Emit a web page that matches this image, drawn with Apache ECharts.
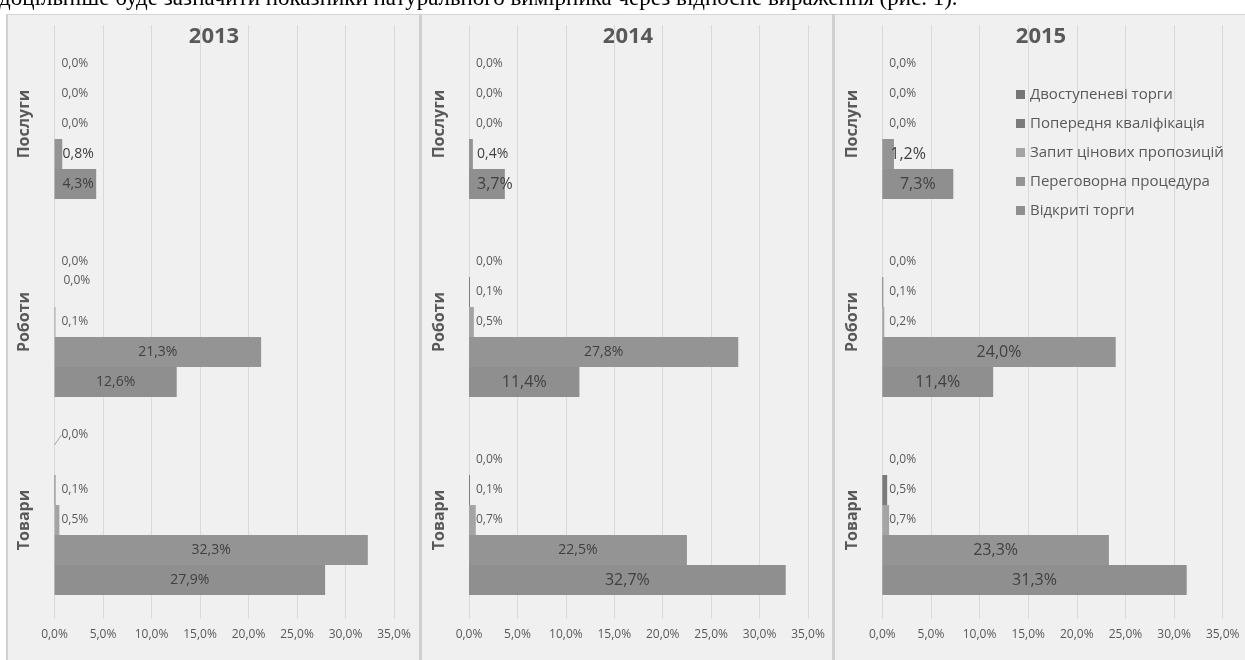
<!DOCTYPE html>
<html><head><meta charset="utf-8">
<script src="https://cdn.jsdelivr.net/npm/echarts@6/dist/echarts.min.js"></script>
<style>html,body{margin:0;padding:0;background:#f0f0f0}#c{width:1245px;height:660px}</style>
</head><body><div id="c"></div>
<script>
// ---- data ----
const categories = ['Товари', 'Роботи', 'Послуги'];
const years = ['2013', '2014', '2015'];
const seriesNames = ['Відкриті торги', 'Переговорна процедура', 'Запит цінових пропозицій', 'Попередня кваліфікація', 'Двоступеневі торги'];
const legendOrder = ['Двоступеневі торги', 'Попередня кваліфікація', 'Запит цінових пропозицій', 'Переговорна процедура', 'Відкриті торги'];
const xTicks = [0, 5, 10, 15, 20, 25, 30, 35];
// values in category order [Товари, Роботи, Послуги], %
const open2013 = [27.9, 12.6, 4.3];
const negot2013 = [32.3, 21.3, 0.8];
const request2013 = [0.5, 0.1, 0.0];
const prequal2013 = [0.1, 0.0, 0.0];
const twostage2013 = [0.0, 0.0, 0.0];
const open2014 = [32.7, 11.4, 3.7];
const negot2014 = [22.5, 27.8, 0.4];
const request2014 = [0.7, 0.5, 0.0];
const prequal2014 = [0.1, 0.1, 0.0];
const twostage2014 = [0.0, 0.0, 0.0];
const open2015 = [31.3, 11.4, 7.3];
const negot2015 = [23.3, 24.0, 1.2];
const request2015 = [0.7, 0.2, 0.0];
const prequal2015 = [0.5, 0.1, 0.0];
const twostage2015 = [0.0, 0.0, 0.0];

const yearData = [
  [open2013, negot2013, request2013, prequal2013, twostage2013],
  [open2014, negot2014, request2014, prequal2014, twostage2014],
  [open2015, negot2015, request2015, prequal2015, twostage2015]
];

// ---- styling ----
const FONT = 'Open Sans';
const colors = ['#8f8f8f', '#949494', '#a4a4a4', '#7b7b7b', '#767676'];
const grids = [
  { left: 54.5, width: 339.5 },
  { left: 469, width: 339 },
  { left: 882.3, width: 340.4 }
];
const titleX = [214, 628, 1041];
const bigFont = [[14, 14], [16, 14], [16, 16]]; // [year][series 0/1]
// manual label moves (as in source chart): key year-series-dataIndex
const labelMoves = {
  '0-3-1': { dx: 2, dy: -11 },
  '0-4-0': { dx: 0, dy: -25, line: true }
};

const fmt = v => v.toFixed(1).replace('.', ',') + '%';

const series = [];
yearData.forEach((arrs, yi) => {
  // ECharts places horizontal bars top-down in series order -> add top series first
  for (let si = arrs.length - 1; si >= 0; si--) {
    const vals = arrs[si];
    const data = vals.map((v, di) => {
      const item = { value: v };
      const mv = labelMoves[yi + '-' + si + '-' + di];
      if (mv && mv.line) item.labelLine = { show: true, lineStyle: { color: '#a6a6a6', width: 1 } };
      if (si < 2) {
        item.label = v < 5
          ? { position: 'insideLeft', distance: 8 }
          : { position: 'inside' };
      }
      return item;
    });
    series.push({
      type: 'bar',
      name: seriesNames[si],
      xAxisIndex: yi,
      yAxisIndex: yi,
      data: data,
      barGap: '0%',
      barCategoryGap: '24.2%',
      itemStyle: { color: colors[si] },
      label: {
        show: true,
        formatter: p => fmt(p.value),
        position: 'insideLeft',
        distance: 7,
        fontFamily: FONT,
        fontSize: si < 2 ? bigFont[yi][si] : 12,
        color: si < 2 ? '#404040' : '#595959'
      },
      labelLayout: function (p) {
        const mv = labelMoves[yi + '-' + si + '-' + p.dataIndex];
        return mv ? { dx: mv.dx, dy: mv.dy } : {};
      },
      emphasis: { disabled: true }
    });
  }
});

const chart = echarts.init(document.getElementById('c'));
chart.setOption({
  backgroundColor: '#f0f0f0',
  animation: false,
  textStyle: { fontFamily: FONT },
  grid: grids.map(g => ({ left: g.left, width: g.width, top: 25, height: 594, containLabel: false })),
  xAxis: grids.map((g, i) => ({
    type: 'value', gridIndex: i, min: 0, max: 35, interval: 5,
    axisLine: { show: false }, axisTick: { show: false },
    splitLine: { show: true, lineStyle: { color: '#d9d9d9', width: 1 } },
    axisLabel: { formatter: v => fmt(v), color: '#595959', fontSize: 12, margin: 10, fontFamily: FONT }
  })),
  yAxis: grids.map((g, i) => ({
    type: 'category', gridIndex: i, data: categories,
    axisLine: { show: false }, axisTick: { show: false },
    axisLabel: { rotate: 90, color: '#595959', fontSize: 16, fontWeight: 'bold', margin: 22, fontFamily: FONT }
  })),
  legend: {
    data: legendOrder,
    orient: 'vertical',
    left: 1016, top: 87,
    padding: 0,
    itemWidth: 9, itemHeight: 9, itemGap: 14,
    icon: 'rect',
    selectedMode: false,
    textStyle: { fontSize: 15, color: '#595959', fontFamily: FONT, lineHeight: 15 }
  },
  graphic: [
    { type: 'rect', shape: { x: 0, y: 0, width: 1245, height: 14 }, style: { fill: '#ffffff' }, silent: true },
    { type: 'rect', shape: { x: 0, y: 0, width: 6, height: 660 }, style: { fill: '#ffffff' }, silent: true },
    { type: 'line', shape: { x1: 6, y1: 14.5, x2: 1245, y2: 14.5 }, style: { stroke: '#d6d6d6', lineWidth: 1 }, silent: true },
    { type: 'line', shape: { x1: 7, y1: 14, x2: 7, y2: 660 }, style: { stroke: '#d0d0d0', lineWidth: 2 }, silent: true },
    { type: 'line', shape: { x1: 420.5, y1: 14, x2: 420.5, y2: 660 }, style: { stroke: '#d0d0d0', lineWidth: 3 }, silent: true },
    { type: 'line', shape: { x1: 833.5, y1: 14, x2: 833.5, y2: 660 }, style: { stroke: '#d0d0d0', lineWidth: 3 }, silent: true },
    { type: 'text', x: -1, y: -1, style: { text: 'доцільніше буде зазначити показники натурального вимірника через відносне вираження (рис. 1).', font: '23px "Liberation Serif"', fill: '#000', textVerticalAlign: 'middle' }, silent: true }
  ].concat(years.map((y, i) => ({
    type: 'text', x: titleX[i], y: 37,
    style: { text: y, font: 'bold 22px "Open Sans"', fill: '#595959', textAlign: 'center', textVerticalAlign: 'middle' },
    silent: true
  }))),
  series: series
});
</script>
</body></html>
